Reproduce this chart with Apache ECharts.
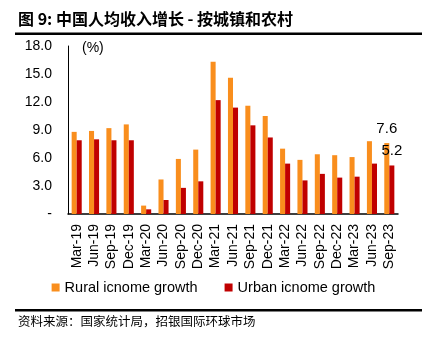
<!DOCTYPE html>
<html>
<head>
<meta charset="utf-8">
<script src="https://cdn.jsdelivr.net/npm/echarts@6/dist/echarts.min.js"></script>
<style>
html,body{margin:0;padding:0;background:#fff;}
#chart{width:427px;height:350px;}
</style>
</head>
<body>
<div id="chart"></div>
<script>
var quarters = ['Mar-19','Jun-19','Sep-19','Dec-19','Mar-20','Jun-20','Sep-20','Dec-20','Mar-21','Jun-21','Sep-21','Dec-21','Mar-22','Jun-22','Sep-22','Dec-22','Mar-23','Jun-23','Sep-23'];
var rural = [8.8, 8.9, 9.2, 9.6, 0.9, 3.7, 5.9, 6.9, 16.3, 14.6, 11.6, 10.5, 7.0, 5.8, 6.4, 6.3, 6.1, 7.8, 7.6];
var urban = [7.9, 8.0, 7.9, 7.9, 0.5, 1.5, 2.8, 3.5, 12.2, 11.4, 9.5, 8.2, 5.4, 3.6, 4.3, 3.9, 4.0, 5.4, 5.2];
var seriesNames = ['Rural icnome growth', 'Urban icnome growth'];
var colors = ['#F98E1D', '#C00000'];

var font = 'Liberation Sans, Arial, sans-serif';

// only the last bar of each series carries a value label
function withLastLabel(arr){
	return arr.map(function(v, i){
		if(i === arr.length - 1){
			return {value: v, label: {show: true, position: 'top', distance: 7, fontSize: 15, color: '#000', fontFamily: font, formatter: function(p){ return p.value.toFixed(1); }}};
		}
		return v;
	});
}

var chart = echarts.init(document.getElementById('chart'));
var option = {
	animation: false,
	color: colors,
	grid: {left: 68, right: 29, top: 46, bottom: 136},
	legend: {
		top: 275,
		left: 'center',
		itemWidth: 8,
		itemHeight: 8,
		itemGap: 27,
		icon: 'rect',
		textStyle: {fontSize: 14.5, color: '#000', fontFamily: font},
		data: seriesNames
	},
	xAxis: {
		type: 'category',
		data: quarters,
		axisLine: {lineStyle: {color: '#000', width: 1.5}},
		axisTick: {show: false},
		axisLabel: {rotate: 90, fontSize: 14, color: '#000', fontFamily: font, margin: 10, interval: 0}
	},
	yAxis: {
		type: 'value',
		min: 0,
		max: 18,
		interval: 3,
		axisLine: {show: true, lineStyle: {color: '#000', width: 1}},
		axisTick: {show: false},
		splitLine: {show: false},
		axisLabel: {
			fontSize: 14, color: '#000', fontFamily: font, margin: 16,
			formatter: function(v){ return v === 0 ? '-' : v.toFixed(1); }
		}
	},
	graphic: [
		{type: 'text', left: 18, top: 11, style: {text: '图 9: 中国人均收入增长 - 按城镇和农村', font: 'bold 16px "Noto Sans CJK SC", sans-serif', fill: '#000'}},
		{type: 'rect', shape: {x: 15, y: 32.5, width: 407, height: 2.5}, style: {fill: '#000'}},
		{type: 'text', left: 82, top: 41, style: {text: '(%)', font: '14px ' + font, fill: '#000'}},
		{type: 'rect', shape: {x: 15, y: 309, width: 407, height: 2.5}, style: {fill: '#000'}},
		{type: 'text', left: 18, top: 315, style: {text: '资料来源：国家统计局，招银国际环球市场', font: '12.5px "Noto Sans CJK SC", sans-serif', fill: '#000'}}
	],
	series: [
		{name: seriesNames[0], type: 'bar', data: withLastLabel(rural), barGap: '0%', barCategoryGap: '42%'},
		{name: seriesNames[1], type: 'bar', data: withLastLabel(urban)}
	]
};
chart.setOption(option);
</script>
</body>
</html>
